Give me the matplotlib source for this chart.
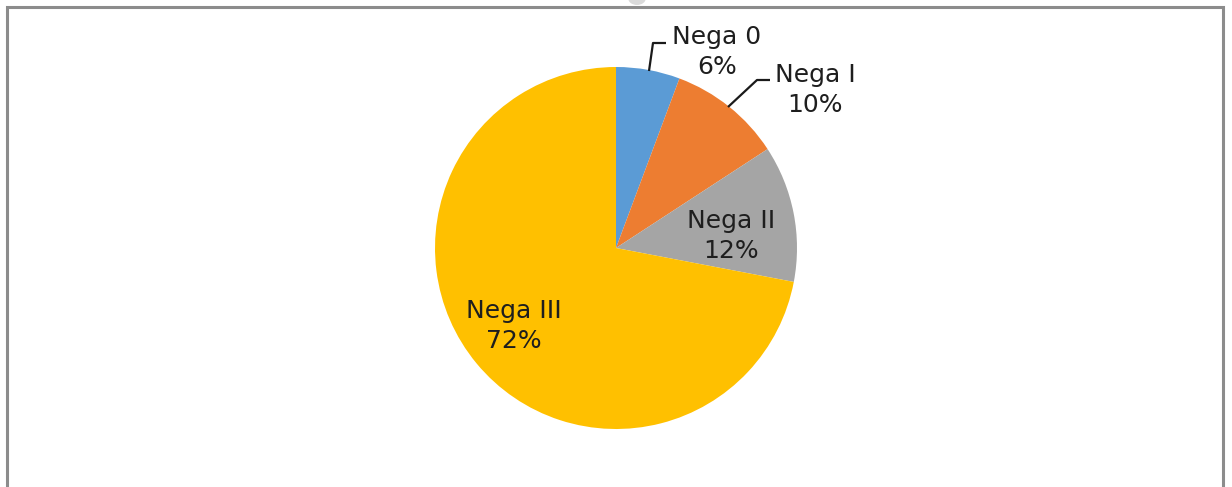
import matplotlib
matplotlib.use("Agg")
import matplotlib.pyplot as plt
from matplotlib.patches import Ellipse

# ---- data ----
categories = ["Nega 0", "Nega I", "Nega II", "Nega III"]
values = [5.7, 10.1, 12.2, 72.0]
colors = ["#5B9BD5", "#ED7D31", "#A5A5A5", "#FFC000"]

W, H = 1232, 487
fig = plt.figure(figsize=(W / 100, H / 100), dpi=100)
ax = fig.add_axes([0, 0, 1, 1])

cx, cy, r = 616, H - 248, 181
wedges, _ = ax.pie(values, colors=colors, startangle=90, counterclock=False,
                   center=(cx, cy), radius=r, frame=True,
                   wedgeprops=dict(linewidth=0))
ax.set_xlim(0, W)
ax.set_ylim(0, H)
ax.set_aspect("equal")
ax.axis("off")

total = sum(values)
labels = [f"{c}\n{round(v / total * 100):.0f}%" for c, v in zip(categories, values)]

# label positions in pixel coords (top-origin)
label_pos = [(717, 52), (815, 90), (731, 236), (514, 326)]
txtcolor = "#1E1E1E"
for lab, (lx, ly) in zip(labels, label_pos):
    ax.text(lx, H - ly, lab, ha="center", va="center", fontsize=18,
            color=txtcolor, family="DejaVu Sans", linespacing=1.33)

# leader lines
leaders = [[(649, 71), (653, 43), (666, 43)],
           [(728, 107), (757, 80), (770, 80)]]
for pts in leaders:
    ax.plot([p[0] for p in pts], [H - p[1] for p in pts], color="#1a1a1a",
            lw=1.6, solid_capstyle="butt")

# chart border (bottom cut off)
bc = "#8C8C8C"
ax.plot([7, 7, 1223, 1223], [0, H - 7, H - 7, 0], color=bc, lw=2.2,
        solid_joinstyle="miter")

# faint watermark fragment at top
ax.add_patch(Ellipse((637, H + 2), 18, 14, color="#DADADA", lw=0))

fig.savefig("out.png", dpi=100)
